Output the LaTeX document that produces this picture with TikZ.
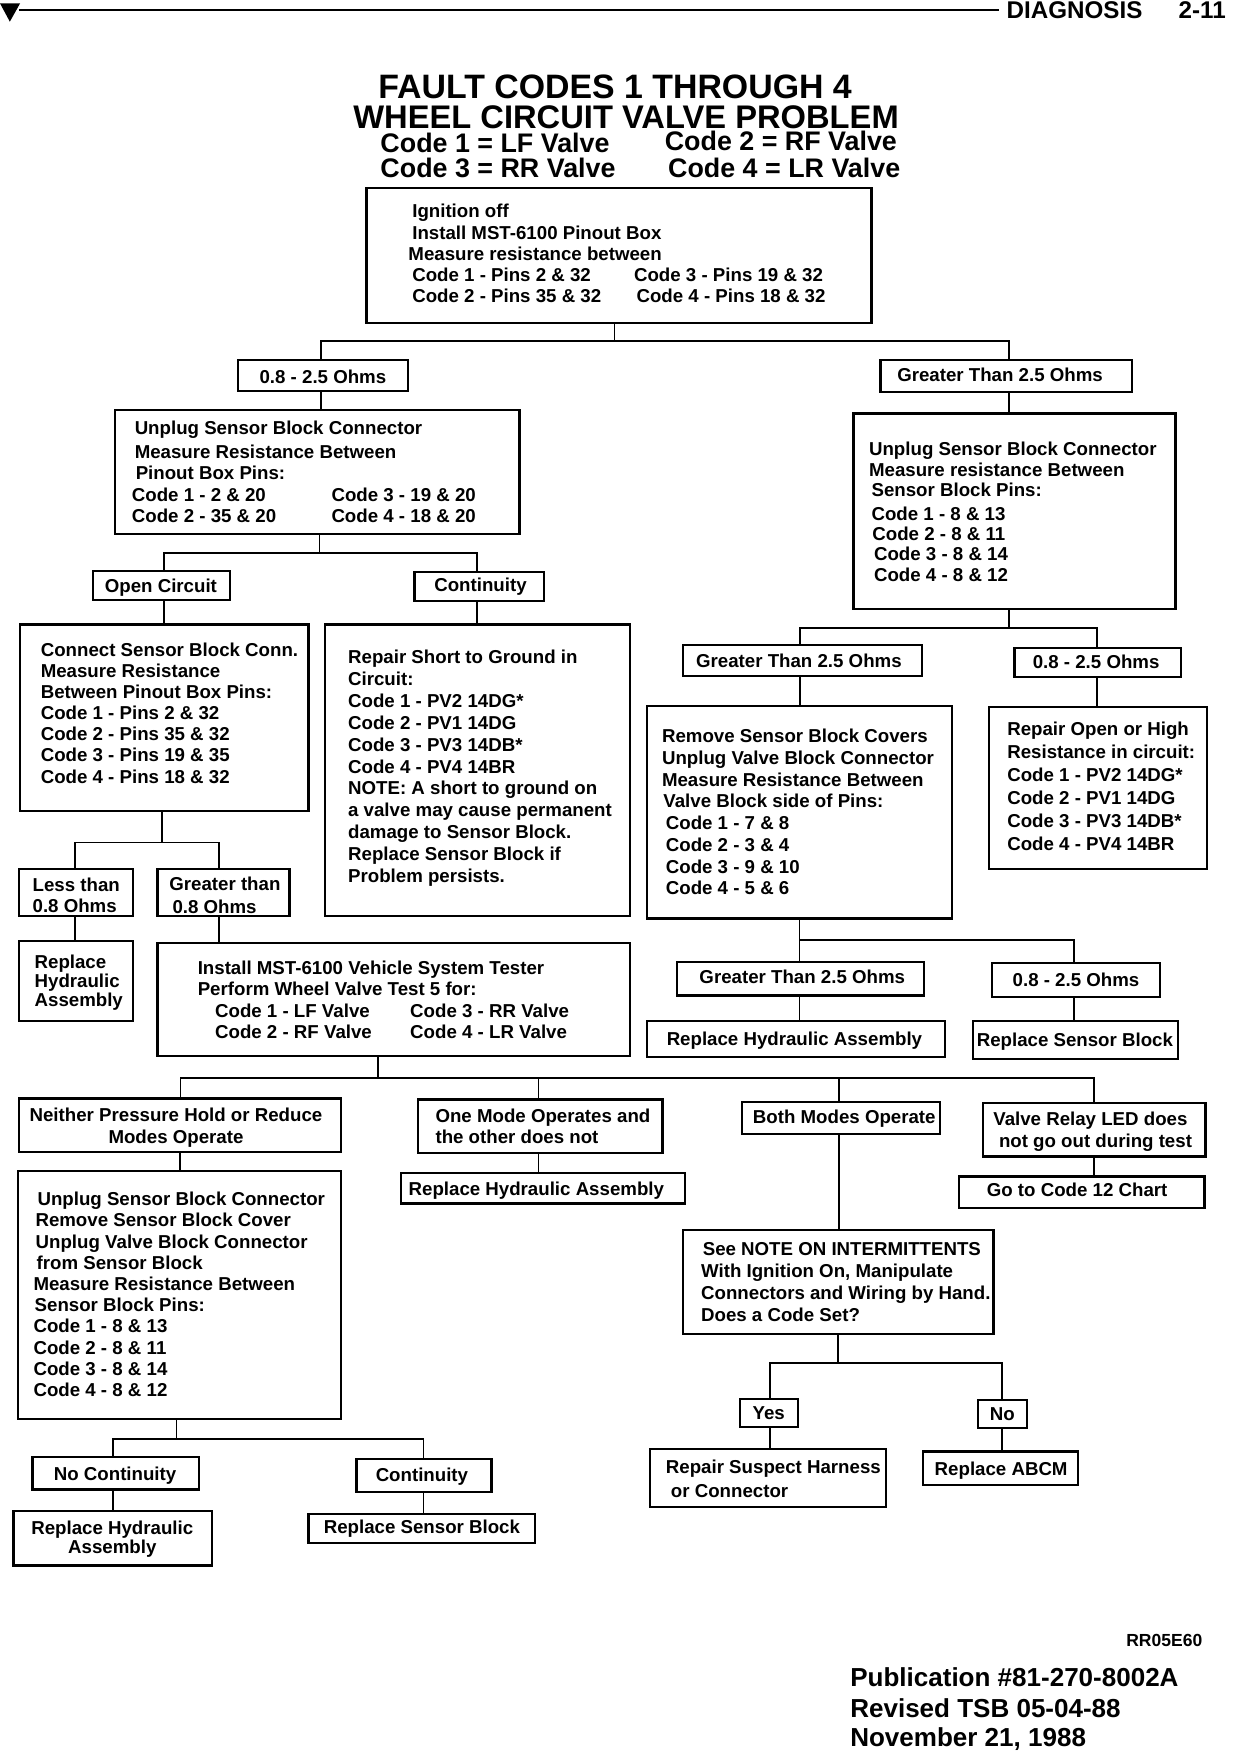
\documentclass[tikz,border=0pt]{standalone}
\usepackage{fontspec}
\setmainfont{Liberation Sans}
\usetikzlibrary{fit}
\tikzset{
  bx/.style={draw, line width=1.4pt, inner sep=0pt, outer sep=0pt},
  ln/.style={line width=1.1pt},
  btxt/.style={anchor=north west, inner sep=0pt, outer sep=0pt, align=left, font=\bfseries\fontsize{11.2}{#1}\selectfont},
  ctxt/.style={anchor=north, inner sep=0pt, outer sep=0pt, align=center, font=\bfseries\fontsize{11.2}{#1}\selectfont},
  lbl/.style={anchor=base, inner sep=0pt, outer sep=0pt, font=\bfseries\fontsize{11.2}{13}\selectfont},
  ttl/.style={anchor=base, inner sep=0pt, outer sep=0pt, font=\bfseries\fontsize{#1}{#1}\selectfont},
  sub/.style={anchor=base west, inner sep=0pt, outer sep=0pt, font=\bfseries\fontsize{#1}{#1}\selectfont},
}
\newcommand\bx[5]{\node[bx, fit={(#2,#3) (#4,#5)}] (#1) {};}
\newcommand\link[3]{\coordinate (#1x) at (#3,0); \draw[ln] (#1.south -| #1x) -- (#2.north -| #1x);}
\newcommand\branch[4]{\coordinate (#1j) at (#2,#3);
  \foreach \cc/\xx [count=\ii] in {#4}{\coordinate (#1j\ii) at (\xx,#3);
    \draw[ln] (#1.south -| #1j) -- (#1j) -- (#1j\ii) -- (\cc.north -| #1j\ii);}}
\begin{document}
\begin{tikzpicture}[x=0.67pt, y=-0.67pt]
\useasboundingbox (0,0) rectangle (1117,1568);
\fill[white] (0,0) rectangle (1117,1568);

% header
\fill (0,3) -- (18,3) -- (8.8,19.4) -- cycle;
\draw[line width=1.6pt] (17,9) -- (894,9);
\node[sub=14.5] (hd) at (901,16.4) {DIAGNOSIS};
\node[sub=14.5, anchor=base east] (pg) at (1097,16.4) {2-11};

% title
\node[ttl=20.3] (t1) at (550.5,88.5) {FAULT CODES 1 THROUGH 4};
\node[ttl=19.6] (t2) at (560.3,115) {WHEEL CIRCUIT VALVE PROBLEM};
\node[sub=16.1] (c1) at (340.5,136.6) {Code 1 = LF Valve};
\node[sub=16.1] (c2) at (595,134.8) {Code 2 = RF Valve};
\node[sub=16.1] (c3) at (340.5,158.6) {Code 3 = RR Valve};
\node[sub=16.1] (c4) at (598,158.6) {Code 4 = LR Valve};

% boxes
\bx{b1}{328}{168}{780}{289}
\bx{o1}{213}{322}{365}{350}
\bx{g1}{788}{322}{1013}{351}
\bx{b2}{103}{367}{465}{478}
\bx{oc}{83}{511}{206}{537}
\bx{ct}{371}{512}{487}{538}
\bx{b3}{18}{559}{276}{726}
\bx{b4}{291}{559}{564}{820}
\bx{lt}{17}{778}{119}{820}
\bx{gt}{141}{778}{259}{820}
\bx{rhA}{17}{842}{119}{914}
\bx{b5}{141}{844}{564}{945}
\bx{np}{17}{983}{305}{1031}
\bx{om}{374}{984}{593}{1032}
\bx{bm}{664}{986}{841}{1015}
\bx{vr}{880}{987}{1079}{1035}
\bx{b6}{16}{1048}{305}{1270}
\bx{rhB}{359}{1050}{613}{1077}
\bx{gc}{858}{1053}{1078}{1081}
\bx{b7}{611}{1101}{889}{1194}
\bx{nc}{29}{1304}{178}{1333}
\bx{ctB}{319}{1306}{440}{1335}
\bx{rhC}{12}{1352}{190}{1401}
\bx{rsA}{276}{1355}{479}{1381}
\bx{ys}{662}{1252}{714}{1277}
\bx{no}{875}{1253}{919}{1278}
\bx{rp}{582}{1297}{793}{1349}
\bx{ra}{826}{1299}{965}{1329}
\bx{b8}{764}{370}{1052}{545}
\bx{g2}{611}{577}{825}{605}
\bx{o2}{908}{580}{1057}{606}
\bx{b9}{579}{632}{852}{822}
\bx{b10}{885}{633}{1080}{778}
\bx{g3}{606}{861}{827}{891}
\bx{o3}{888}{862}{1038}{892}
\bx{rhD}{579}{914}{846}{946}
\bx{rsB}{871}{914}{1054}{948}

% connectors
\branch{b1}{550}{305}{o1/287, g1/903}
\link{o1}{b2}{287}
\link{g1}{b8}{903}
\branch{b2}{286}{495}{oc/147, ct/427}
\link{oc}{b3}{146.5}
\link{ct}{b4}{427}
\branch{b3}{145}{754}{lt/67, gt/196}
\link{lt}{rhA}{67}
\link{gt}{b5}{196}
\branch{b5}{338}{965}{np/161.5, om/482, bm/751, vr/979}
\link{np}{b6}{161}
\link{om}{rhB}{482}
\link{bm}{b7}{751}
\link{vr}{gc}{979}
\branch{b6}{158}{1288}{nc/101, ctB/379}
\link{nc}{rhC}{101}
\link{ctB}{rsA}{379}
\branch{b7}{750}{1220}{ys/689, no/897}
\link{ys}{rp}{689}
\link{no}{ra}{897}
\branch{b8}{903}{562}{g2/716, o2/982}
\link{g2}{b9}{716}
\link{o2}{b10}{982}
\branch{b9}{715.5}{841}{g3/715.5, o3/961}
\link{g3}{rhD}{715.5}
\link{o3}{rsB}{961}

% box texts
\node[btxt=12.76pt] (tb1) at (369,182.8) {Ignition off\\
Install MST-6100 Pinout Box\\
\hspace*{-2.3pt}Measure resistance between\\
\makebox[133pt][l]{Code 1 - Pins 2 \& 32}Code 3 - Pins 19 \& 32\\
\makebox[134.5pt][l]{Code 2 - Pins 35 \& 32}Code 4 - Pins 18 \& 32};

\node[btxt=12.7pt] (tb2) at (120.6,376.6) {Unplug Sensor Block Connector\\[1.9pt]
Measure Resistance Between\\
\hspace*{0.6pt}Pinout Box Pins:\\
\hspace*{-1.7pt}\makebox[119.7pt][l]{Code 1 - 2 \& 20}Code 3 - 19 \& 20\\
\hspace*{-1.7pt}\makebox[119.7pt][l]{Code 2 - 35 \& 20}Code 4 - 18 \& 20};

\node[btxt=12.7pt] (tb3) at (36.5,575) {Connect Sensor Block Conn.\\
Measure Resistance\\
Between Pinout Box Pins:\\
Code 1 - Pins 2 \& 32\\
Code 2 - Pins 35 \& 32\\
Code 3 - Pins 19 \& 35\\
Code 4 - Pins 18 \& 32};

\node[btxt=13.1pt] (tb4) at (311.6,582) {Repair Short to Ground in\\
Circuit:\\
Code 1 - PV2 14DG*\\
Code 2 - PV1 14DG\\
Code 3 - PV3 14DB*\\
Code 4 - PV4 14BR\\
NOTE: A short to ground on\\
a valve may cause permanent\\
damage to Sensor Block.\\
Replace Sensor Block if\\
Problem persists.};

\node[btxt=12.9pt] (tb5) at (177,859.6) {Install MST-6100 Vehicle System Tester\\
Perform Wheel Valve Test 5 for:\\
\hspace*{10.4pt}\makebox[117pt][l]{Code 1 - LF Valve}Code 3 - RR Valve\\
\hspace*{10.4pt}\makebox[117pt][l]{Code 2 - RF Valve}Code 4 - LR Valve};

\node[btxt=12.7pt] (tb6) at (30,1067) {\hspace*{2.4pt}Unplug Sensor Block Connector\\
\hspace*{1.2pt}Remove Sensor Block Cover\\
\hspace*{1.3pt}Unplug Valve Block Connector\\
\hspace*{1.9pt}from Sensor Block\\
Measure Resistance Between\\
\hspace*{0.7pt}Sensor Block Pins:\\
Code 1 - 8 \& 13\\
Code 2 - 8 \& 11\\
Code 3 - 8 \& 14\\
Code 4 - 8 \& 12};

\node[btxt=13.2pt] (tb7) at (627.5,1112) {\hspace*{1pt}See NOTE ON INTERMITTENTS\\
With Ignition On, Manipulate\\
Connectors and Wiring by Hand.\\
Does a Code Set?};

\node[btxt=12.2pt] (tb8) at (777.8,395.8) {Unplug Sensor Block Connector\\
Measure resistance Between\\
\hspace*{1.5pt}Sensor Block Pins:\\[2pt]
\hspace*{1.5pt}Code 1 - 8 \& 13\\
\hspace*{2pt}Code 2 - 8 \& 11\\
\hspace*{3pt}Code 3 - 8 \& 14\\
\hspace*{3pt}Code 4 - 8 \& 12};

\node[btxt=13.05pt] (tb9) at (592.5,652.5) {Remove Sensor Block Covers\\
Unplug Valve Block Connector\\
Measure Resistance Between\\
\hspace*{0.8pt}Valve Block side of Pins:\\
\hspace*{2.3pt}Code 1 - 7 \& 8\\
\hspace*{2.3pt}Code 2 - 3 \& 4\\
\hspace*{2.3pt}Code 3 - 9 \& 10\\
\hspace*{2.3pt}Code 4 - 5 \& 6};

\node[btxt=13.8pt] (tb10) at (901.5,646) {Repair Open or High\\
Resistance in circuit:\\
Code 1 - PV2 14DG*\\
Code 2 - PV1 14DG\\
Code 3 - PV3 14DB*\\
Code 4 - PV4 14BR};

% small multi-line boxes
\node[btxt=12.9pt] (tlt) at (29.2,785.7) {Less than\\0.8 Ohms};
\node[btxt=13.4pt] (tgt) at (151.6,785) {Greater than\\\hspace*{1.9pt}0.8 Ohms};
\node[btxt=11.3pt] (trhA) at (31,854.7) {Replace\\Hydraulic\\Assembly};
\node[ctxt=12.7pt] (tnp) at (157.5,992) {Neither Pressure Hold or Reduce\\Modes Operate};
\node[btxt=12.7pt] (tom) at (389.8,992.5) {One Mode Operates and\\the other does not};
\node[btxt=13.4pt] (tvr) at (889,995) {Valve Relay LED does\\\hspace*{3.4pt}not go out during test};
\node[btxt=14pt] (trp) at (596,1307) {Repair Suspect Harness\\\hspace*{3pt}or Connector};
\node[ctxt=11.4pt] (trhC) at (100.5,1361) {Replace Hydraulic\\Assembly};

% single-line labels
\node[lbl] (to1) at (289,343) {0.8 - 2.5 Ohms};
\node[lbl] (tg1) at (895,341.6) {Greater Than 2.5 Ohms};
\node[lbl] (toc) at (144,530.2) {Open Circuit};
\node[lbl] (tct) at (430,529.6) {Continuity};
\node[lbl] (tbm) at (755.6,1005.5) {Both Modes Operate};
\node[lbl] (trhB) at (480,1069.5) {Replace Hydraulic Assembly};
\node[lbl] (tgc) at (964,1071) {Go to Code 12 Chart};
\node[lbl] (tg2) at (715,597.3) {Greater Than 2.5 Ohms};
\node[lbl] (to2) at (981,598) {0.8 - 2.5 Ohms};
\node[lbl] (tg3) at (718,880) {Greater Than 2.5 Ohms};
\node[lbl] (to3) at (963,883) {0.8 - 2.5 Ohms};
\node[lbl] (trhD) at (711,936) {Replace Hydraulic Assembly};
\node[lbl] (trsB) at (962,937) {Replace Sensor Block};
\node[lbl] (tys) at (688,1270.6) {Yes};
\node[lbl] (tno) at (897,1271) {No};
\node[lbl] (tra) at (896,1320.7) {Replace ABCM};
\node[lbl] (tnc) at (103,1324.6) {No Continuity};
\node[lbl] (tctB) at (377.6,1325.8) {Continuity};
\node[lbl] (trsA) at (377.6,1372.5) {Replace Sensor Block};

% footer
\node[sub=10.5, anchor=base east] (rr) at (1076,1474) {RR05E60};
\node[sub=15.6] (f1) at (761,1509.5) {Publication \#81-270-8002A};
\node[sub=15.6] (f2) at (761,1537.5) {Revised TSB 05-04-88};
\node[sub=15.6] (f3) at (761,1562.7) {November 21, 1988};
\end{tikzpicture}
\end{document}
